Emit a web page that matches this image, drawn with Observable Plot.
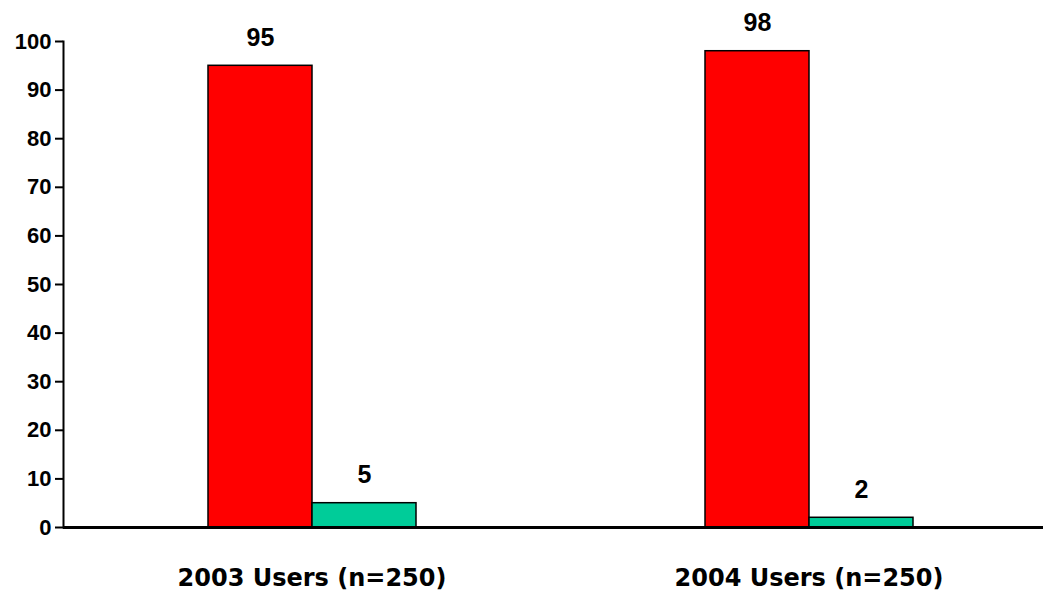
<!DOCTYPE html>
<html>
<head>
<meta charset="utf-8">
<script src="https://cdn.jsdelivr.net/npm/d3@7"></script>
<script src="https://cdn.jsdelivr.net/npm/@observablehq/plot@0.6"></script>
<style>
  html, body { margin: 0; padding: 0; background: #fff; overflow: hidden; }
  #chart svg { max-width: none !important; display: block; }
</style>
</head>
<body>
<div id="chart"></div>
<script>
const categories = ["2003 Users (n=250)", "2004 Users (n=250)"];
const series = ["Series 1", "Series 2"];
const values2003 = [95, 5];
const values2004 = [98, 2];
const yTicks = [0, 10, 20, 30, 40, 50, 60, 70, 80, 90, 100];
const colors = ["#ff0000", "#00cc99"];

const data = [];
[values2003, values2004].forEach((vals, i) => {
  vals.forEach((v, j) => data.push({category: categories[i], series: series[j], value: v}));
});

const chart = Plot.plot({
  width: 1057,
  height: 595,
  marginLeft: 63,
  marginRight: 0,
  marginTop: 41,
  marginBottom: 68,
  style: {fontFamily: "'Liberation Sans', Arial, sans-serif", background: "#fff", color: "#000", maxWidth: "none"},
  fx: {domain: categories, paddingInner: 0, paddingOuter: 0, label: null, axis: null},
  x: {domain: series, paddingInner: 0, paddingOuter: 1.378, axis: null},
  y: {domain: [0, 100], axis: null},
  color: {domain: series, range: colors},
  marks: [
    Plot.barY(data, {fx: "category", x: "series", y: "value", fill: "series", stroke: "#000", strokeWidth: 1.5}),
    Plot.text(data, {fx: "category", x: "series", y: "value", text: d => String(d.value), dy: -28, fontSize: 25, fontWeight: "bold", fill: "#000"}),
    Plot.ruleY([0], {stroke: "#000", strokeWidth: 3}),
    Plot.frame({anchor: "left", facetAnchor: "left", stroke: "#000", strokeWidth: 2}),
    Plot.axisY({ticks: yTicks, tickSize: 8, tickPadding: 4, strokeWidth: 2, fontSize: 22, fontWeight: "bold", label: null, tickFormat: d => String(d)}),
    Plot.axisFx({anchor: "bottom", tickSize: 0, tickPadding: 41, fontSize: 24, fontWeight: "bold", fontFamily: "'DejaVu Sans', Verdana, sans-serif", label: null})
  ]
});
document.getElementById("chart").appendChild(chart);
</script>
</body>
</html>
